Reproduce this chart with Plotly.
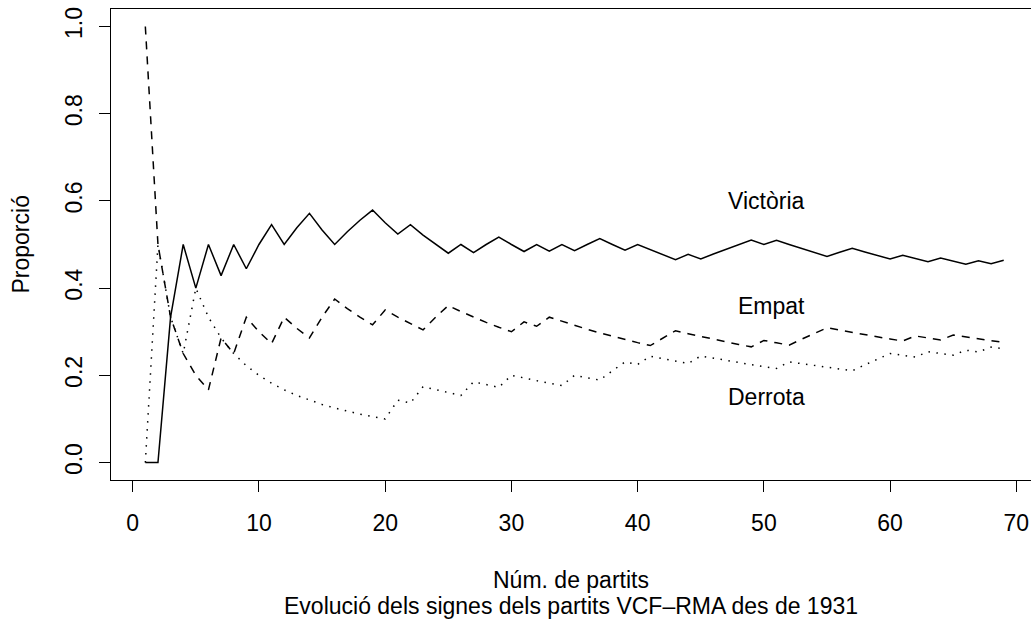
import plotly.graph_objects as go

partits = list(range(1, 70))

victoria = [0, 0, 0.3333, 0.5, 0.4, 0.5, 0.4286, 0.5, 0.4444, 0.5,
            0.5455, 0.5, 0.5385, 0.5714, 0.5333, 0.5, 0.5294, 0.5556, 0.5789, 0.55,
            0.5238, 0.5455, 0.5217, 0.5, 0.48, 0.5, 0.4815, 0.5, 0.5172, 0.5,
            0.4839, 0.5, 0.4848, 0.5, 0.4857, 0.5, 0.5135, 0.5, 0.4872, 0.5,
            0.4878, 0.4762, 0.4651, 0.4773, 0.4667, 0.4783, 0.4894, 0.5, 0.5102, 0.5,
            0.5098, 0.5, 0.4906, 0.4815, 0.4727, 0.4821, 0.4912, 0.4828, 0.4746, 0.4667,
            0.4754, 0.4677, 0.4603, 0.4688, 0.4615, 0.4545, 0.4627, 0.4559, 0.4638]

empat = [1, 0.5, 0.3333, 0.25, 0.2, 0.1667, 0.2857, 0.25, 0.3333, 0.3,
         0.2727, 0.3333, 0.3077, 0.2857, 0.3333, 0.375, 0.3529, 0.3333, 0.3158, 0.35,
         0.3333, 0.3182, 0.3043, 0.3333, 0.36, 0.3462, 0.3333, 0.3214, 0.3103, 0.3,
         0.3226, 0.3125, 0.3333, 0.3235, 0.3143, 0.3056, 0.2973, 0.2895, 0.2821, 0.275,
         0.2683, 0.2857, 0.3023, 0.2955, 0.2889, 0.2826, 0.2766, 0.2708, 0.2653, 0.28,
         0.2745, 0.2692, 0.2830, 0.2963, 0.3091, 0.3036, 0.2982, 0.2931, 0.2881, 0.2833,
         0.2787, 0.2903, 0.2857, 0.2813, 0.2923, 0.2879, 0.2836, 0.2794, 0.2754]

derrota = [0, 0.5, 0.3333, 0.25, 0.4, 0.3333, 0.2857, 0.25, 0.2222, 0.2,
           0.1818, 0.1667, 0.1538, 0.1429, 0.1333, 0.125, 0.1176, 0.1111, 0.1053, 0.1,
           0.1429, 0.1364, 0.1739, 0.1667, 0.16, 0.1538, 0.1852, 0.1786, 0.1724, 0.2,
           0.1935, 0.1875, 0.1818, 0.1765, 0.2, 0.1944, 0.1892, 0.2105, 0.2308, 0.225,
           0.2439, 0.2381, 0.2326, 0.2273, 0.2444, 0.2391, 0.2340, 0.2292, 0.2245, 0.22,
           0.2157, 0.2308, 0.2264, 0.2222, 0.2182, 0.2143, 0.2105, 0.2241, 0.2373, 0.25,
           0.2459, 0.2419, 0.2540, 0.25, 0.2462, 0.2576, 0.2537, 0.2647, 0.2609]

etiquetes = ["Victòria", "Empat", "Derrota"]
etiq_x = [50.2, 50.6, 50.2]
etiq_y = [0.6, 0.358, 0.15]

x_ticks = [0, 10, 20, 30, 40, 50, 60, 70]
y_ticks = [0.0, 0.2, 0.4, 0.6, 0.8, 1.0]
y_ticktext = ["0.0", "0.2", "0.4", "0.6", "0.8", "1.0"]

FONT = "Liberation Sans, Arial, Helvetica, sans-serif"
FS = 23

PLOT_H = 471
PLOT_W = 920

fig = go.Figure()
fig.add_trace(go.Scatter(x=partits, y=victoria, mode="lines",
                         line=dict(color="black", width=1.5), name="Victòria"))
fig.add_trace(go.Scatter(x=partits, y=empat, mode="lines",
                         line=dict(color="black", width=1.5, dash="8px,7px"), name="Empat"))
fig.add_trace(go.Scatter(x=partits, y=derrota, mode="lines",
                         line=dict(color="black", width=1.5, dash="1.5px,6.5px"), name="Derrota"))

for t, xx, yy in zip(etiquetes, etiq_x, etiq_y):
    fig.add_annotation(x=xx, y=yy, text=t, showarrow=False, xanchor="center", yanchor="middle",
                       font=dict(family=FONT, size=FS, color="black"))

fig.add_annotation(xref="paper", yref="paper", x=0.5, y=(480 - 580) / PLOT_H, text="Núm. de partits",
                   showarrow=False, xanchor="center", yanchor="middle",
                   font=dict(family=FONT, size=FS, color="black"))
fig.add_annotation(xref="paper", yref="paper", x=0.5, y=(480 - 606) / PLOT_H,
                   text="Evolució dels signes dels partits VCF–RMA des de 1931",
                   showarrow=False, xanchor="center", yanchor="middle",
                   font=dict(family=FONT, size=FS, color="black"))
fig.add_annotation(xref="paper", yref="paper", x=(20 - 111) / PLOT_W, y=0.5, text="Proporció",
                   showarrow=False, xanchor="center", yanchor="middle", textangle=-90,
                   font=dict(family=FONT, size=FS, color="black"))

fig.update_layout(
    width=1031, height=624,
    margin=dict(l=111, r=0, t=9, b=144),
    paper_bgcolor="white", plot_bgcolor="white",
    showlegend=False,
    font=dict(family=FONT, size=FS, color="black"),
)
fig.update_xaxes(range=[-1.72, 71.16], tickvals=x_ticks, ticks="outside", ticklen=11,
                 tickwidth=1, tickcolor="black", showline=True, linecolor="black", linewidth=1,
                 mirror=True, showgrid=False, zeroline=False, ticklabelstandoff=11,
                 ticklabeloverflow="allow")
fig.update_yaxes(range=[-0.04, 1.04], tickvals=y_ticks, ticktext=y_ticktext, ticks="outside",
                 ticklen=11, tickwidth=1, tickcolor="black", showline=True, linecolor="black",
                 linewidth=1, mirror=False, showgrid=False, zeroline=False, tickangle=-90,
                 ticklabelstandoff=8, ticklabeloverflow="allow")

fig.write_html("out.html",
               config={"displayModeBar": False},
               post_script="document.body.style.margin='0';document.body.style.overflow='hidden';")
